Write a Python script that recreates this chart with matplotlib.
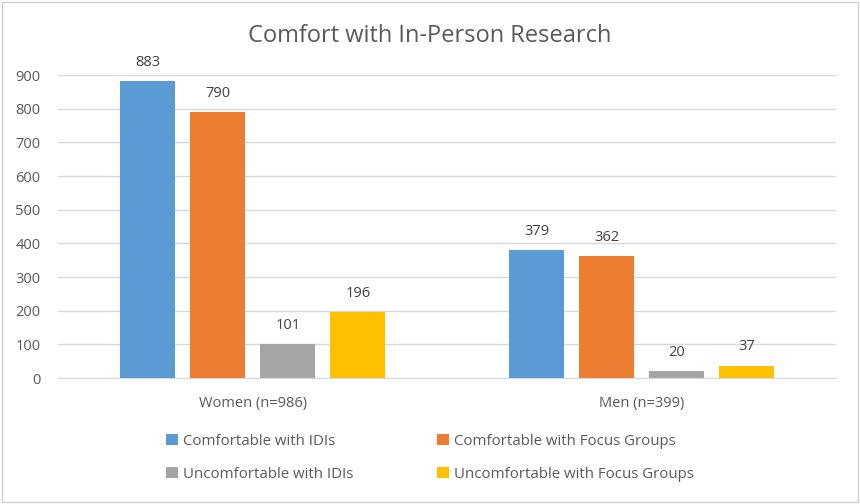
import numpy as np
import matplotlib.pyplot as plt
from matplotlib.patches import Patch, Rectangle

# chart data
groups = ['Women (n=986)', 'Men (n=399)']
series = ['Comfortable with IDIs', 'Comfortable with Focus Groups',
          'Uncomfortable with IDIs', 'Uncomfortable with Focus Groups']
values = [
    [883, 379],
    [790, 362],
    [101, 20],
    [196, 37],
]
colors = ['#5B9BD5', '#ED7D31', '#A5A5A5', '#FFC000']
yticks = [0, 100, 200, 300, 400, 500, 600, 700, 800, 900]

plt.rcParams['font.family'] = ['Open Sans', 'DejaVu Sans']
text_col = '#595959'

fig = plt.figure(figsize=(8.6, 5.04), dpi=100)
ax = fig.add_axes([0.068, 0.25, 0.904, 0.601])

x = np.arange(len(groups))
width = 0.141
step = 0.18
handles = []
for i, (name, vals, col) in enumerate(zip(series, values, colors)):
    bars = ax.bar(x + (i - 1.5) * step, vals, width, color=col, label=name, zorder=3)
    ax.bar_label(bars, padding=8, fontsize=10.5, color='#404040')
    handles.append(Patch(facecolor=col, label=name))

ax.set_xlim(-0.5, 1.5)
ax.set_ylim(0, 900)
ax.set_yticks(yticks)
ax.set_xticks(x)
ax.set_xticklabels(groups)
ax.tick_params(axis='both', length=0, labelsize=10.5, colors=text_col)
ax.tick_params(axis='y', pad=13)
ax.tick_params(axis='x', pad=13)
ax.grid(axis='y', color='#D9D9D9', linewidth=1, zorder=0)
for s in ['top', 'right', 'left']:
    ax.spines[s].set_visible(False)
ax.spines['bottom'].set_color('#D9D9D9')

fig.text(0.5, 0.928, 'Comfort with In-Person Research', ha='center', va='center',
         fontsize=17, color=text_col)

order = [0, 2, 1, 3]
leg = fig.legend([handles[k] for k in order], [series[k] for k in order],
                 loc='center', bbox_to_anchor=(0.5, 0.092), ncol=2, frameon=False,
                 fontsize=10.8, handlelength=0.8, handleheight=0.8, handletextpad=0.3,
                 columnspacing=5.6, labelspacing=1.2)
for t in leg.get_texts():
    t.set_color(text_col)

fig.patches.append(Rectangle((0.002, 0.003), 0.996, 0.994, transform=fig.transFigure,
                             fill=False, edgecolor='#D0D0D0', linewidth=1))

fig.savefig('out.png', dpi=100)
